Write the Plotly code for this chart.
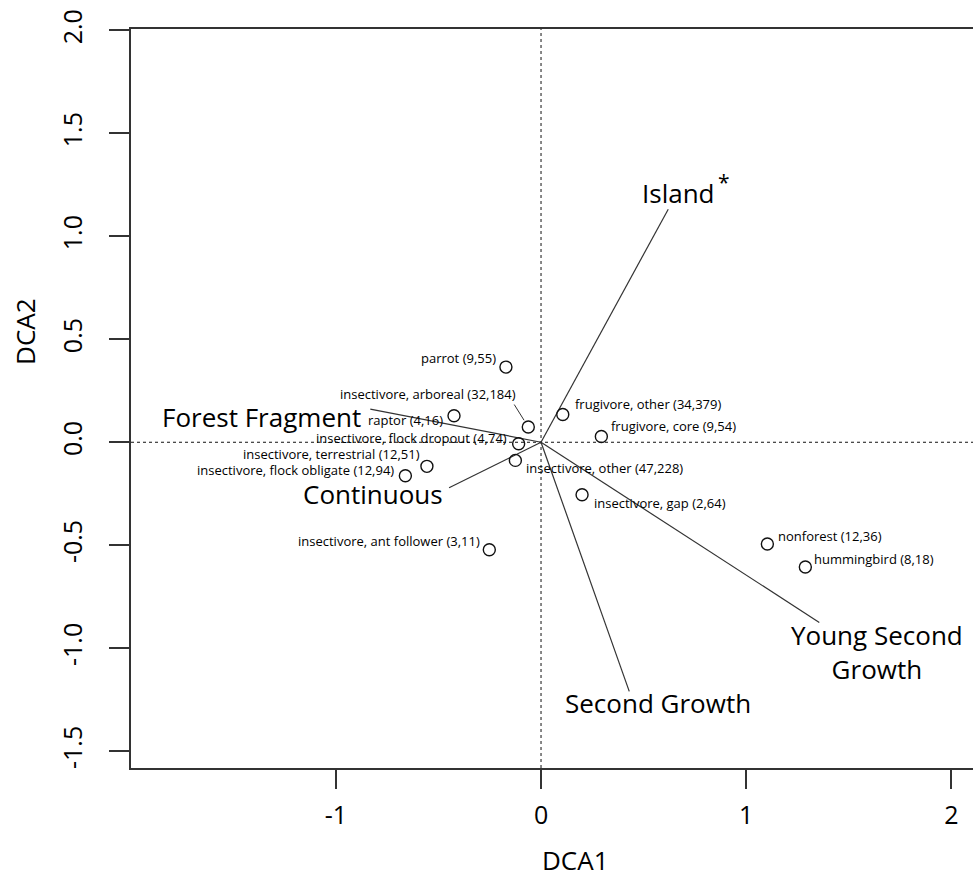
import plotly.graph_objects as go

# Guild scores on the first two DCA axes
guilds = [
    "parrot (9,55)",
    "insectivore, arboreal (32,184)",
    "raptor (4,16)",
    "insectivore, flock dropout (4,74)",
    "insectivore, other (47,228)",
    "insectivore, terrestrial (12,51)",
    "insectivore, flock obligate (12,94)",
    "frugivore, other (34,379)",
    "frugivore, core (9,54)",
    "insectivore, gap (2,64)",
    "insectivore, ant follower (3,11)",
    "nonforest (12,36)",
    "hummingbird (8,18)",
]
guild_dca1 = [-0.171, -0.062, -0.424, -0.109, -0.125, -0.556, -0.661,
              0.106, 0.294, 0.200, -0.252, 1.103, 1.288]
guild_dca2 = [0.365, 0.074, 0.129, -0.007, -0.088, -0.117, -0.163,
              0.135, 0.028, -0.255, -0.522, -0.494, -0.606]

# Habitat vectors (fitted environmental arrows)
habitats = ["Island", "Forest Fragment", "Continuous", "Second Growth",
            "Young Second<br>Growth"]
habitat_dca1 = [0.620, -0.832, -0.448, 0.430, 1.356]
habitat_dca2 = [1.132, 0.161, -0.221, -1.210, -0.875]

# Axis ticks
x_ticks = [-1, 0, 1, 2]
y_ticks = [-1.5, -1.0, -0.5, 0.0, 0.5, 1.0, 1.5, 2.0]
y_tick_text = ["-1.5", "-1.0", "-0.5", "0.0", "0.5", "1.0", "1.5", "2.0"]

# Label placement: (xanchor, xshift px, yshift px)
guild_label_pos = [
    ("right", -8, 9), ("right", -10, 33), ("right", -9, -4), ("right", -10, 6),
    ("left", 9, -8), ("right", -5, 12), ("right", -9, 6), ("left", 10, 10),
    ("left", 8, 10), ("left", 10, -8), ("right", -7, 9), ("left", 9, 8),
    ("left", 7, 8),
]
habitat_label_pos = [
    ("center", 10, 16), ("right", -8, -8), ("right", -5, -6),
    ("center", 29, -12), ("center", 58, -30),
]

FONT = "Open Sans"
INK = "#000000"

fig = go.Figure()

# habitat vectors from the origin
for hx, hy in zip(habitat_dca1, habitat_dca2):
    fig.add_trace(go.Scatter(
        x=[0, hx], y=[0, hy], mode="lines",
        line=dict(color="#333333", width=1.2),
        hoverinfo="skip", showlegend=False,
    ))

# guild points
fig.add_trace(go.Scatter(
    x=guild_dca1, y=guild_dca2, mode="markers",
    marker=dict(symbol="circle-open", size=12, color="#111111",
                line=dict(width=1.4, color="#111111")),
    text=guilds, hoverinfo="text", showlegend=False,
))

annotations = []
for name, gx, gy, (anc, dx, dy) in zip(guilds, guild_dca1, guild_dca2,
                                       guild_label_pos):
    annotations.append(dict(
        x=gx, y=gy, text=name, showarrow=False, xanchor=anc, yanchor="middle",
        xshift=dx, yshift=dy, font=dict(family=FONT, size=13, color=INK),
    ))

# leader from the arboreal label to its point
arb = guilds.index("insectivore, arboreal (32,184)")
annotations.append(dict(
    x=guild_dca1[arb], y=guild_dca2[arb], text="", showarrow=True,
    arrowhead=0, arrowwidth=1, arrowcolor="#333333",
    ax=-15, ay=-24, standoff=8,
))

# habitat names at the vector tips
for name, hx, hy, (anc, dx, dy) in zip(habitats, habitat_dca1, habitat_dca2,
                                       habitat_label_pos):
    annotations.append(dict(
        x=hx, y=hy, text=name, showarrow=False, xanchor=anc,
        yanchor="middle", xshift=dx, yshift=dy, align="center",
        borderpad=0,
        font=dict(family=FONT, size=26, color=INK),
    ))

# significance marker next to Island
isl = habitats.index("Island")
annotations.append(dict(
    x=habitat_dca1[isl], y=habitat_dca2[isl], text="*", showarrow=False,
    xanchor="center", yanchor="middle", xshift=56, yshift=27,
    font=dict(family=FONT, size=21, color=INK),
))

# axis titles
annotations.append(dict(
    xref="paper", yref="paper", x=0.528, y=0, yshift=-92, text="DCA1",
    showarrow=False, xanchor="center", yanchor="middle",
    font=dict(family=FONT, size=26, color=INK),
))
annotations.append(dict(
    xref="paper", yref="paper", x=0, y=0.59, xshift=-106, text="DCA2",
    showarrow=False, xanchor="center", yanchor="middle", textangle=-90,
    font=dict(family=FONT, size=26, color=INK),
))

shapes = [
    dict(type="line", xref="paper", yref="y", x0=0, x1=1, y0=0, y1=0,
         line=dict(color="#111111", width=1, dash="dot"), layer="below"),
    dict(type="line", xref="x", yref="paper", x0=0, x1=0, y0=0, y1=1,
         line=dict(color="#111111", width=1, dash="dot"), layer="below"),
]

fig.update_layout(
    width=973, height=877,
    margin=dict(l=131, r=0, t=29, b=109),
    paper_bgcolor="white", plot_bgcolor="white",
    annotations=annotations, shapes=shapes,
    xaxis=dict(
        range=[-1.998, 2.105], tickvals=x_ticks, ticktext=[str(v) for v in x_ticks],
        showgrid=False, zeroline=False, showline=True, mirror=True,
        linecolor="#333333", linewidth=1.5, ticks="outside", ticklen=19,
        tickwidth=1.5, tickcolor="#333333", ticklabelstandoff=5,
        tickfont=dict(family=FONT, size=25, color=INK),
    ),
    yaxis=dict(
        range=[-1.582, 2.007], tickvals=y_ticks, ticktext=y_tick_text,
        showgrid=False, zeroline=False, showline=True, mirror=False,
        linecolor="#333333", linewidth=1.5, ticks="outside", ticklen=20,
        tickwidth=1.5, tickcolor="#333333", tickangle=-90,
        ticklabelstandoff=17,
        tickfont=dict(family=FONT, size=25, color=INK),
    ),
)

fig.write_html("out.html")
